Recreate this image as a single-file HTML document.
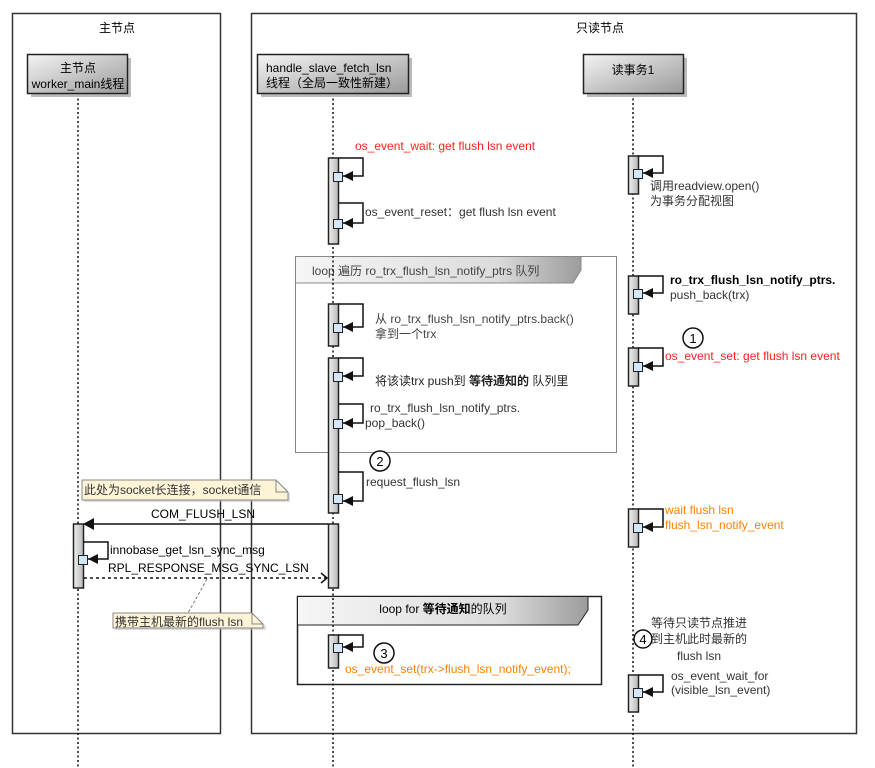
<!DOCTYPE html>
<html><head><meta charset="utf-8"><style>
html,body{margin:0;padding:0;background:#fff;}
svg{display:block;font-family:"Liberation Sans","Noto Sans CJK SC",sans-serif;font-size:12px;}
</style></head><body>
<svg width="875" height="768" viewBox="0 0 875 768" xmlns="http://www.w3.org/2000/svg">
<defs>
<linearGradient id="pg" x1="0" y1="0" x2="1" y2="1"><stop offset="0" stop-color="#f4f4f4"/><stop offset="1" stop-color="#9a9a9a"/></linearGradient>
<linearGradient id="bg" x1="0" y1="0" x2="1" y2="0"><stop offset="0" stop-color="#f0f0f0"/><stop offset="1" stop-color="#b8b8b8"/></linearGradient>
<linearGradient id="hg" x1="0" y1="0" x2="1" y2="0"><stop offset="0" stop-color="#f6f6f6"/><stop offset="0.7" stop-color="#dcdcdc"/><stop offset="1" stop-color="#9c9c9c"/></linearGradient>
</defs>
<!-- swimlanes -->
<rect x="12.5" y="13.5" width="208" height="720" fill="none" stroke="#333" stroke-width="1.5"/>
<rect x="251.5" y="13.5" width="605" height="720" fill="none" stroke="#333" stroke-width="1.5"/>
<text x="117" y="32" text-anchor="middle">主节点</text>
<text x="600" y="32" text-anchor="middle">只读节点</text>

<!-- loop frames -->
<rect x="295.5" y="256.5" width="321" height="196" fill="none" stroke="#888" stroke-width="1"/>
<polygon points="295.5,256.5 581,256.5 581,270 573,283 295.5,283" fill="url(#hg)" stroke="#888"/>
<text x="312" y="275" fill="#444">loop 遍历 ro_trx_flush_lsn_notify_ptrs 队列</text>

<rect x="297.5" y="596.5" width="304" height="88" fill="none" stroke="#222" stroke-width="1.5"/>
<polygon points="297.5,596.5 588,596.5 588,610 578,625 297.5,625" fill="url(#hg)" stroke="#222"/>
<text x="443" y="613" text-anchor="middle">loop for <tspan font-weight="bold">等待通知</tspan>的队列</text>

<!-- lifelines -->
<g stroke="#111" stroke-width="1.5" stroke-dasharray="2,2.5">
<line x1="78" y1="94" x2="78" y2="768"/>
<line x1="333" y1="94" x2="333" y2="768"/>
<line x1="633" y1="94" x2="633" y2="768"/>
</g>

<!-- participants -->
<rect x="31" y="58" width="100" height="39" fill="#bbb"/>
<rect x="27.5" y="54.5" width="100" height="39" fill="url(#pg)" stroke="#222" stroke-width="1.5"/>
<text x="78" y="72" text-anchor="middle">主节点</text>
<text x="78" y="88" text-anchor="middle">worker_main线程</text>
<rect x="261" y="58" width="151" height="39" fill="#bbb"/>
<rect x="257.5" y="54.5" width="151" height="39" fill="url(#pg)" stroke="#222" stroke-width="1.5"/>
<text x="266" y="72">handle_slave_fetch_lsn</text>
<text x="266" y="87">线程（全局一致性新建）</text>
<rect x="587" y="58" width="100" height="39" fill="#bbb"/>
<rect x="583.5" y="54.5" width="100" height="39" fill="url(#pg)" stroke="#222" stroke-width="1.5"/>
<text x="633" y="74" text-anchor="middle">读事务1</text>

<!-- activation bars -->
<g fill="url(#bg)" stroke="#222" stroke-width="1.5">
<rect x="328.5" y="158" width="10" height="86"/>
<rect x="328.5" y="304" width="10" height="42"/>
<rect x="328.5" y="358" width="10" height="155"/>
<rect x="328.5" y="524" width="10" height="64"/>
<rect x="328.5" y="635" width="10" height="33"/>
<rect x="628.5" y="156" width="10" height="38"/>
<rect x="628.5" y="276" width="10" height="38"/>
<rect x="628.5" y="348" width="10" height="38"/>
<rect x="628.5" y="509" width="10" height="38"/>
<rect x="628.5" y="675" width="10" height="37"/>
<rect x="73.5" y="524" width="10" height="64"/>
</g>

<!-- self calls -->
<g stroke="#111" stroke-width="1.5" fill="none">
<path d="M338 158H363V176H343"/><path d="M338 203H363V223H343"/><path d="M338 304H363V327H343"/>
<path d="M338 358H363V376H343"/><path d="M338 404H363V423H343"/><path d="M338 472H363V501H343"/>
<path d="M338 635H363V647H343"/>
<path d="M638 156H663V173H643"/><path d="M638 276H663V293H643"/><path d="M638 348H663V366H643"/>
<path d="M638 509H663V527H643"/><path d="M638 675H663V692H643"/>
<path d="M83 542H108V559H88"/>
</g>
<g fill="#111">
<polygon points="343,176 353,171 353,181"/><polygon points="343,223 353,218 353,228"/><polygon points="343,327 353,322 353,332"/>
<polygon points="343,376 353,371 353,381"/><polygon points="343,423 353,418 353,428"/><polygon points="343,501 353,496 353,506"/>
<polygon points="343,647 353,642 353,652"/>
<polygon points="643,173 653,168 653,178"/><polygon points="643,293 653,288 653,298"/><polygon points="643,366 653,361 653,371"/>
<polygon points="643,527 653,522 653,532"/><polygon points="643,692 653,687 653,697"/>
<polygon points="88,559 98,554 98,564"/>
</g>
<g fill="#d4e6fa" stroke="#222" stroke-width="1">
<rect x="333.5" y="172.5" width="9" height="9"/><rect x="333.5" y="219.5" width="9" height="9"/><rect x="333.5" y="323.5" width="9" height="9"/>
<rect x="333.5" y="372.5" width="9" height="9"/><rect x="333.5" y="419.5" width="9" height="9"/><rect x="333.5" y="494.5" width="9" height="9"/>
<rect x="333.5" y="643.5" width="9" height="9"/>
<rect x="633.5" y="169.5" width="9" height="9"/><rect x="633.5" y="289.5" width="9" height="9"/><rect x="633.5" y="362.5" width="9" height="9"/>
<rect x="633.5" y="523.5" width="9" height="9"/><rect x="633.5" y="688.5" width="9" height="9"/>
<rect x="78.5" y="555.5" width="9" height="9"/>
</g>

<!-- messages -->
<line x1="328" y1="524" x2="88" y2="524" stroke="#111" stroke-width="1.5"/>
<polygon points="83,524 94,518 94,530" fill="#111"/>
<text x="203" y="518" text-anchor="middle">COM_FLUSH_LSN</text>
<line x1="84" y1="578" x2="326" y2="578" stroke="#111" stroke-width="1.5" stroke-dasharray="3,3"/>
<path d="M321 573L327 578L321 583" fill="none" stroke="#111" stroke-width="1.5"/>
<text x="108" y="572">RPL_RESPONSE_MSG_SYNC_LSN</text>
<text x="110" y="554">innobase_get_lsn_sync_msg</text>
<line x1="207" y1="579" x2="188" y2="613" stroke="#777" stroke-dasharray="3,2"/>

<!-- notes -->
<path d="M84 482H278L290 494V502H84Z" fill="#bbb" opacity="0.5"/>
<path d="M82 480H276L288 492V500H82Z" fill="#fdf4d8" stroke="#888"/>
<path d="M276 480V492H288" fill="none" stroke="#888"/>
<text x="84" y="494" fill="#333">此处为socket长连接，socket通信</text>
<path d="M115 615H254L266 626V630H115Z" fill="#bbb" opacity="0.5"/>
<path d="M113 613H252L263 624V628H113Z" fill="#fdf4d8" stroke="#888"/>
<path d="M252 613V624H263" fill="none" stroke="#888"/>
<text x="115" y="626" fill="#333">携带主机最新的flush lsn</text>

<!-- labels -->
<text x="355" y="150" fill="#ff2020">os_event_wait: get flush lsn event</text>
<text x="365" y="216" fill="#333">os_event_reset：get flush lsn event</text>
<text x="375" y="323" fill="#444">从 ro_trx_flush_lsn_notify_ptrs.back()</text>
<text x="375" y="338" fill="#444">拿到一个trx</text>
<text x="375" y="385" fill="#222">将该读trx push到 <tspan font-weight="bold">等待通知的</tspan> 队列里</text>
<text x="370" y="412" fill="#333">ro_trx_flush_lsn_notify_ptrs.</text>
<text x="365" y="427" fill="#333">pop_back()</text>
<text x="366" y="486" fill="#333">request_flush_lsn</text>
<text x="345" y="673" fill="#ff8000">os_event_set(trx-&gt;flush_lsn_notify_event);</text>

<text x="650" y="190" fill="#333">调用readview.open()</text>
<text x="650" y="205" fill="#333">为事务分配视图</text>
<text x="670" y="284" font-weight="bold">ro_trx_flush_lsn_notify_ptrs.</text>
<text x="670" y="299" fill="#333">push_back(trx)</text>
<text x="665" y="360" fill="#ff2020">os_event_set: get flush lsn event</text>
<text x="665" y="514" fill="#ff8000">wait flush lsn</text>
<text x="665" y="529" fill="#ff8000">flush_lsn_notify_event</text>
<text x="699" y="627" text-anchor="middle" fill="#333">等待只读节点推进</text>
<text x="699" y="643" text-anchor="middle" fill="#333">到主机此时最新的</text>
<text x="699" y="660" text-anchor="middle" fill="#333">flush lsn</text>
<text x="671" y="680" fill="#333">os_event_wait_for</text>
<text x="671" y="694" fill="#333">(visible_lsn_event)</text>

<!-- circles -->
<g fill="#fff" stroke="#111" stroke-width="1.5">
<circle cx="693" cy="338" r="10"/><circle cx="380" cy="461" r="10"/>
<circle cx="384" cy="653" r="10"/><circle cx="643" cy="639" r="9"/>
</g>
<g text-anchor="middle" font-size="13">
<text x="693" y="343">1</text><text x="380" y="466">2</text>
<text x="384" y="658">3</text><text x="643" y="644">4</text>
</g>
</svg>
</body></html>
